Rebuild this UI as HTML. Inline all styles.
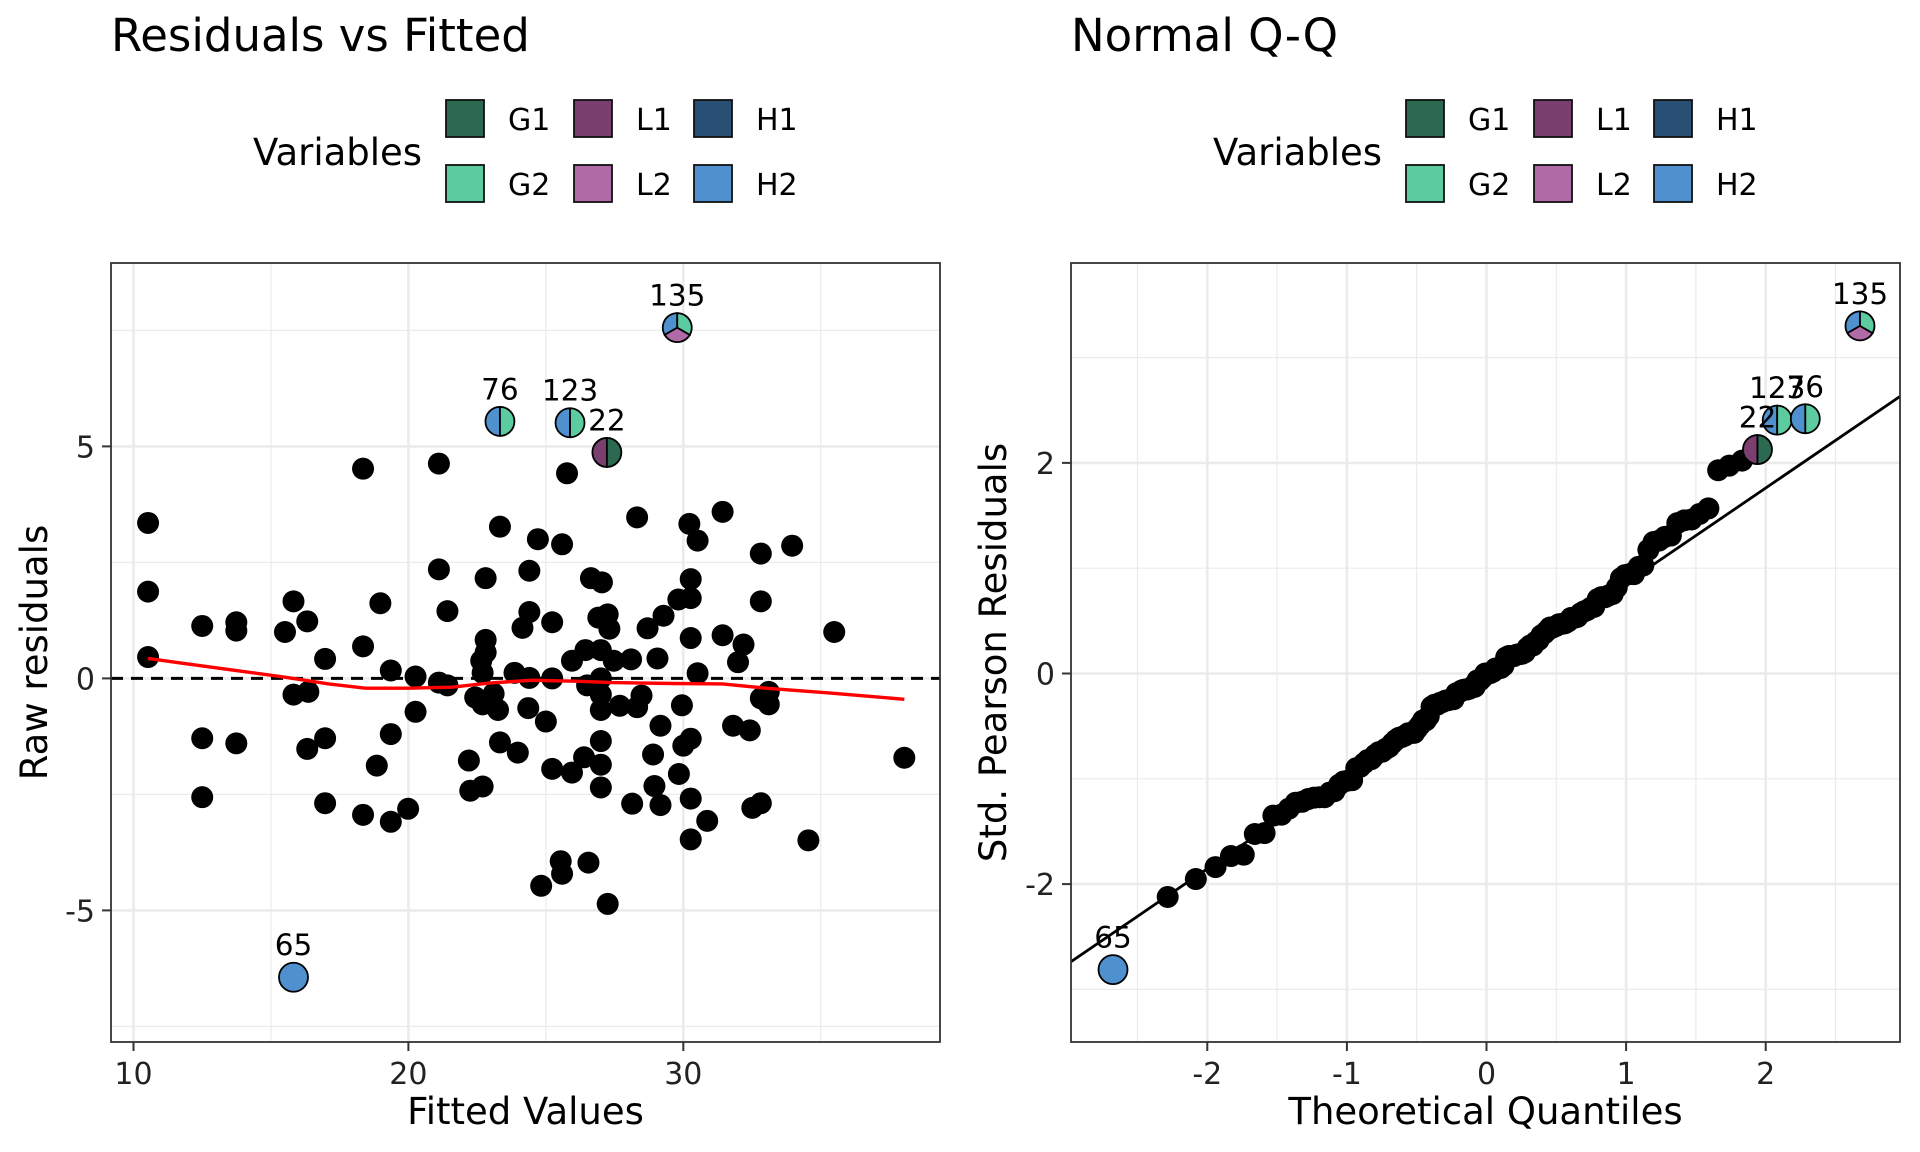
<!DOCTYPE html>
<html><head><meta charset="utf-8"><style>
html,body{margin:0;padding:0;background:#fff}
svg{display:block;font-family:"DejaVu Sans","Liberation Sans",sans-serif}
</style></head><body>
<svg id="chart" width="1920" height="1152" viewBox="0 0 1920 1152" xmlns="http://www.w3.org/2000/svg">
<rect width="1920" height="1152" fill="#fff"/>
<text x="111" y="51" font-size="45">Residuals vs Fitted</text>
<text x="1071" y="51" font-size="45">Normal Q-Q</text>
<g id="legends"></g>
<g id="left"></g>
<g id="right"></g>
</svg>
<script>
const fitted=[10.53,10.53,10.53,12.5,12.5,12.5,13.74,13.74,13.74,15.51,15.82,15.82,16.32,16.36,16.32,16.97,16.97,16.97,18.35,18.35,18.35,18.85,18.98,19.36,19.36,19.36,19.99,20.26,20.26,21.11,21.11,21.11,21.42,21.42,22.2,22.25,22.43,22.7,22.81,22.81,22.81,22.65,22.7,22.7,23.1,23.26,23.33,23.33,23.98,23.86,24.15,24.4,24.4,24.4,24.36,24.71,25.0,24.83,25.23,25.23,25.23,25.54,25.59,25.59,25.77,25.95,25.95,26.44,26.39,26.55,26.64,27.04,26.91,27.25,27.31,27.0,26.5,27.0,27.0,27.0,27.0,27.0,27.0,27.25,27.47,27.69,28.1,28.32,28.14,28.32,28.48,28.7,28.9,28.95,29.06,29.17,29.17,29.28,29.82,29.84,29.95,30.0,30.22,30.27,30.27,30.27,30.27,30.27,30.27,30.52,30.52,30.87,31.43,31.43,31.81,31.99,32.19,32.42,32.51,32.82,32.82,32.82,32.82,33.11,33.11,33.96,34.55,35.49,38.04];
const resid=[3.35,1.87,0.46,1.13,-1.29,-2.56,1.21,1.03,-1.40,1.0,1.66,-0.35,1.23,-0.29,-1.52,0.42,-1.29,-2.69,4.52,0.69,-2.94,-1.88,1.62,0.17,-1.20,-3.09,-2.81,0.04,-0.72,4.63,2.35,-0.09,1.45,-0.15,-1.77,-2.42,-0.41,-2.33,2.16,0.83,0.56,0.38,0.12,-0.56,-0.33,-0.68,3.27,-1.38,-1.60,0.12,1.09,2.32,1.43,0.01,-0.64,3.0,-0.93,-4.47,1.21,0.0,-1.95,-3.94,-4.21,2.89,4.42,0.38,-2.03,0.61,-1.70,-3.97,2.16,2.07,1.31,1.38,1.07,0.61,-0.15,0.0,-0.35,-0.68,-1.35,-1.86,-2.35,-4.86,0.38,-0.59,0.41,3.47,-2.70,-0.62,-0.37,1.08,-1.64,-2.32,0.43,-1.02,-2.73,1.35,1.70,-2.06,-0.58,-1.45,3.33,2.14,1.73,0.87,-1.30,-2.59,-3.47,2.97,0.11,-3.07,3.59,0.93,-1.02,0.35,0.73,-1.12,-2.79,2.69,1.66,-0.43,-2.69,-0.29,-0.56,2.86,-3.49,1.0,-1.71];
const outlierIds=["135","76","123","22","65"];
const outlierFitted=[29.78,23.33,25.88,27.22,15.82];
const outlierResid=[7.56,5.54,5.51,4.87,-6.44];
const outlierVars=[["H2","L2","G2"],["H2","G2"],["H2","G2"],["L1","G1"],["H2"]];
const loessX=[10.53,11.73,13.74,15.51,17.1,18.44,19.99,21.58,22.93,24.5,26.06,27.4,29.64,31.43,33.0,35.24,38.04];
const loessY=[0.43,0.33,0.17,0.025,-0.12,-0.21,-0.21,-0.19,-0.10,-0.04,-0.06,-0.09,-0.11,-0.12,-0.21,-0.31,-0.45];
const residSigma=2.29;
const xTicksL=[10,20,30], yTicksL=[-5,0,5];
const xTicksR=[-2,-1,0,1,2], yTicksR=[-2,0,2];
const legendVars=["G1","G2","L1","L2","H1","H2"];
const varColors={G1:"#2b6a50",G2:"#5ccba0",L1:"#7a3f6e",L2:"#b06aa5",H1:"#294f74",H2:"#4f90cf"};

const NS="http://www.w3.org/2000/svg";
function mk(tag,attrs,parent,text){const e=document.createElementNS(NS,tag);for(const k in attrs)e.setAttribute(k,attrs[k]);if(text!==undefined)e.textContent=text;parent.appendChild(e);return e;}

const L={x0:111,x1:940,y0:263,y1:1042};
const lx=v=>133.5+(v-10)*27.49, ly=v=>678.4-v*46.4;
const R={x0:1071,x1:1900,y0:263,y1:1042};
const rx=v=>1486.5+v*139.6, ry=v=>673.5-v*105.3;

function qnorm(p){const a=[-39.6968302866538,220.946098424521,-275.928510446969,138.357751867269,-30.6647980661472,2.50662827745924],b=[-54.4760987982241,161.585836858041,-155.698979859887,66.8013118877197,-13.2806815528857],c=[-0.00778489400243029,-0.322396458041136,-2.40075827716184,-2.54973253934373,4.37466414146497,2.93816398269878],d=[0.00778469570904146,0.32246712907004,2.445134137143,3.75440866190742];const pl=0.02425;let q,r;if(p<pl){q=Math.sqrt(-2*Math.log(p));return(((((c[0]*q+c[1])*q+c[2])*q+c[3])*q+c[4])*q+c[5])/((((d[0]*q+d[1])*q+d[2])*q+d[3])*q+1);}if(p>1-pl){q=Math.sqrt(-2*Math.log(1-p));return-(((((c[0]*q+c[1])*q+c[2])*q+c[3])*q+c[4])*q+c[5])/((((d[0]*q+d[1])*q+d[2])*q+d[3])*q+1);}q=p-0.5;r=q*q;return(((((a[0]*r+a[1])*r+a[2])*r+a[3])*r+a[4])*r+a[5])*q/(((((b[0]*r+b[1])*r+b[2])*r+b[3])*r+b[4])*r+1);}

function panel(g,P,xs,ys,xmaj,xmin,ymaj,ymin,name){
  const clip=mk('clipPath',{id:'clip-'+name},g);mk('rect',{x:P.x0,y:P.y0,width:P.x1-P.x0,height:P.y1-P.y0},clip);
  xmin.forEach(v=>{const l=mk('line',{x1:xs(v),x2:xs(v),y1:P.y0,y2:P.y1,stroke:'#ebebeb','stroke-width':1.2},g);});
  ymin.forEach(v=>{const l=mk('line',{y1:ys(v),y2:ys(v),x1:P.x0,x2:P.x1,stroke:'#ebebeb','stroke-width':1.2},g);});
  xmaj.forEach(v=>{const l=mk('line',{x1:xs(v),x2:xs(v),y1:P.y0,y2:P.y1,stroke:'#ebebeb','stroke-width':2.6},g);});
  ymaj.forEach(v=>{const l=mk('line',{y1:ys(v),y2:ys(v),x1:P.x0,x2:P.x1,stroke:'#ebebeb','stroke-width':2.6},g);});
  xmaj.forEach(v=>{mk('line',{x1:xs(v),x2:xs(v),y1:P.y1,y2:P.y1+9,stroke:'#333','stroke-width':2},g);
    const t=mk('text',{x:xs(v),y:1084,'font-size':30,'text-anchor':'middle',fill:'#222'},g,String(v));});
  ymaj.forEach(v=>{mk('line',{x1:P.x0-9,x2:P.x0,y1:ys(v),y2:ys(v),stroke:'#333','stroke-width':2},g);
    const t=mk('text',{x:P.x0-16,y:ys(v)+11,'font-size':30,'text-anchor':'end',fill:'#222'},g,String(v));});
}
function pie(g,cx,cy,r,vars){
  const grp=mk('g',{},g);
  
  
  if(vars.length===1){mk('circle',{cx,cy,r,fill:varColors[vars[0]],stroke:'#000','stroke-width':1.8},grp);return;}
  const n=vars.length;
  vars.forEach((v,i)=>{const a0=Math.PI/2+i*2*Math.PI/n,a1=a0+2*Math.PI/n;
    const x0=cx+r*Math.cos(a0),y0=cy-r*Math.sin(a0),x1=cx+r*Math.cos(a1),y1=cy-r*Math.sin(a1);
    mk('path',{d:`M${cx},${cy}L${x0},${y0}A${r},${r} 0 0 0 ${x1},${y1}Z`,fill:varColors[v],stroke:'#000','stroke-width':1.8},grp);});
}
function label(g,x,y,t){const e=mk('text',{x,y,'font-size':29.5,'text-anchor':'middle'},g,t);}

const gl=document.getElementById('left');
panel(gl,L,lx,ly,xTicksL,[15,25,35],yTicksL,[-7.5,-2.5,2.5,7.5],'l');
const gpl=mk('g',{'clip-path':'url(#clip-l)'},gl);
const zl=mk('line',{x1:L.x0,x2:L.x1,y1:ly(0),y2:ly(0),stroke:'#000','stroke-width':3,'stroke-dasharray':'12,8'},gpl);

fitted.forEach((f,i)=>{const c=mk('circle',{cx:lx(f),cy:ly(resid[i]),r:11,fill:'#000'},gpl);});
const lo=mk('polyline',{points:loessX.map((x,i)=>lx(x)+','+ly(loessY[i])).join(' '),fill:'none',stroke:'#ff0000','stroke-width':3.4},gpl);

outlierIds.forEach((id,i)=>{const x=lx(outlierFitted[i]),y=ly(outlierResid[i]);pie(gpl,x,y,14.5,outlierVars[i]);label(gl,x,y-22,id);});
mk('rect',{x:L.x0,y:L.y0,width:L.x1-L.x0,height:L.y1-L.y0,fill:'none',stroke:'#333','stroke-width':1.8},gl);
let t=mk('text',{x:(L.x0+L.x1)/2,y:1124,'font-size':37,'text-anchor':'middle'},gl,'Fitted Values');
t=mk('text',{x:0,y:0,'font-size':37,'text-anchor':'middle',transform:`translate(47,${(L.y0+L.y1)/2}) rotate(-90)`},gl,'Raw residuals');

const gr=document.getElementById('right');
panel(gr,R,rx,ry,xTicksR,[-2.5,-1.5,-0.5,0.5,1.5,2.5],yTicksR,[-3,-1,1,3],'r');
const gpr=mk('g',{'clip-path':'url(#clip-r)'},gr);
const allRes=resid.map((v,i)=>({v,id:null})).concat(outlierResid.map((v,i)=>({v,id:i})));
allRes.sort((a,b)=>a.v-b.v);
const n=allRes.length;
const std=allRes.map(o=>o.v/residSigma);
const theo=allRes.map((o,i)=>qnorm((i+1-0.5)/n));
function quant(arr,p){const s=arr.slice().sort((a,b)=>a-b);const h=(s.length-1)*p,lo=Math.floor(h);return s[lo]+(h-lo)*(s[lo+1]-s[lo]);}
const yq1=quant(std,0.25),yq3=quant(std,0.75),xq1=qnorm(0.25),xq3=qnorm(0.75);
const slope=(yq3-yq1)/(xq3-xq1),icpt=yq1-slope*xq1;
const ql=mk('line',{x1:rx(-3.2),y1:ry(icpt+slope*-3.2),x2:rx(3.2),y2:ry(icpt+slope*3.2),stroke:'#000','stroke-width':2.8},gpr);

allRes.forEach((o,i)=>{if(o.id===null){const c=mk('circle',{cx:rx(theo[i]),cy:ry(std[i]),r:11,fill:'#000'},gpr);}});
allRes.forEach((o,i)=>{if(o.id!==null){const x=rx(theo[i]),y=ry(std[i]);pie(gpr,x,y,14.5,outlierVars[o.id]);label(gr,x,y-22,outlierIds[o.id]);}});
mk('rect',{x:R.x0,y:R.y0,width:R.x1-R.x0,height:R.y1-R.y0,fill:'none',stroke:'#333','stroke-width':1.8},gr);
t=mk('text',{x:(R.x0+R.x1)/2,y:1124,'font-size':37,'text-anchor':'middle'},gr,'Theoretical Quantiles');
t=mk('text',{x:0,y:0,'font-size':37,'text-anchor':'middle',transform:`translate(1006,${(R.y0+R.y1)/2}) rotate(-90)`},gr,'Std. Pearson Residuals');

const gL=document.getElementById('legends');
[0,960].forEach(off=>{
  const lg=mk('g',{},gL);
  
  
  mk('text',{x:253+off,y:165,'font-size':37},lg,'Variables');
  legendVars.forEach((v,i)=>{const col=Math.floor(i/2),row=i%2;const kx=[446,574,694][col]+off,ky=[100,165][row];
    const e=mk('g',{},lg);
    
    
    mk('rect',{x:kx,y:ky,width:38,height:37,fill:varColors[v],stroke:'#111','stroke-width':1.8},e);
    mk('text',{x:kx+62,y:ky+30,'font-size':30},e,v);});
});
</script>
</body></html>
